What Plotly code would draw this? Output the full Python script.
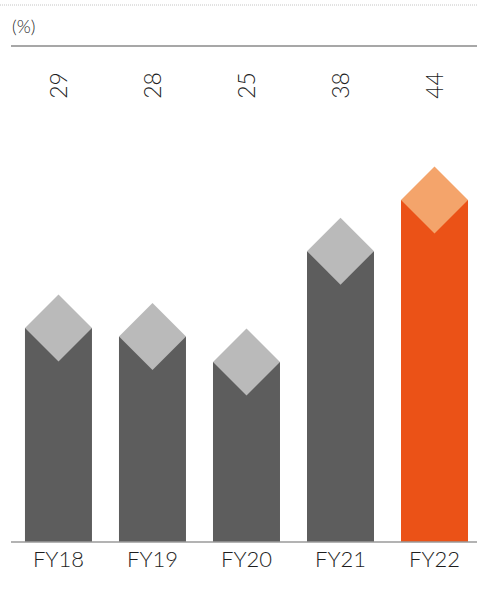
import plotly.graph_objects as go

categories = ["FY18", "FY19", "FY20", "FY21", "FY22"]
values = [29, 28, 25, 38, 44]
bar_colors = ["#5d5d5d", "#5d5d5d", "#5d5d5d", "#5d5d5d", "#eb5217"]
cap_colors = ["#bababa", "#bababa", "#bababa", "#bababa", "#f4a46b"]
unit_label = "(%)"

W, H = 477, 595
mt, mb = 0, 53
plot_h = H - mt - mb
ymax = 63.5
px_per_unit = plot_h / ymax
x0, x1 = -0.622, 4.452
px_per_x = W / (x1 - x0)
bar_w = 67 / px_per_x
half_w = bar_w / 2
half_h = (67 / 2) / px_per_unit

fig = go.Figure()
fig.add_trace(go.Bar(
    x=list(range(len(categories))),
    y=[v - half_h for v in values],
    width=bar_w,
    marker=dict(color=bar_colors, line=dict(width=0)),
    hoverinfo="skip",
))
for i, v in enumerate(values):
    fig.add_trace(go.Scatter(
        x=[i, i + half_w, i, i - half_w, i],
        y=[v, v - half_h, v - 2 * half_h, v - half_h, v],
        mode="lines", fill="toself", fillcolor=cap_colors[i],
        line=dict(width=0, color=cap_colors[i]), hoverinfo="skip",
    ))
    fig.add_annotation(x=i, y=53.5, text=str(v), showarrow=False, textangle=-90,
                       font=dict(family="Lato", size=23, color="#1e1e1e", weight=300))

fig.add_annotation(xref="paper", yref="paper", x=10 / W, y=(plot_h - 26) / plot_h,
                   xanchor="left", yanchor="middle", text=unit_label, showarrow=False,
                   font=dict(family="Lato", size=18, color="#1e1e1e", weight=300))

fig.add_shape(type="line", xref="paper", yref="paper", x0=0, x1=1,
              y0=(plot_h - 5) / plot_h, y1=(plot_h - 5) / plot_h,
              line=dict(color="#c4c4c4", width=1, dash="1px,1px"))
fig.add_shape(type="line", xref="paper", yref="paper", x0=11 / W, x1=1,
              y0=(plot_h - 46) / plot_h, y1=(plot_h - 46) / plot_h,
              line=dict(color="#8a8a8a", width=1.5))
fig.add_shape(type="line", xref="paper", yref="paper", x0=11 / W, x1=1,
              y0=0, y1=0, line=dict(color="#9a9a9a", width=1.5))

fig.update_layout(
    width=W, height=H, margin=dict(l=0, r=0, t=mt, b=mb),
    paper_bgcolor="white", plot_bgcolor="white", showlegend=False,
    xaxis=dict(range=[x0, x1], tickmode="array", tickvals=list(range(len(categories))),
               ticktext=categories, showgrid=False, zeroline=False, showline=False,
               ticks="", ticklabelstandoff=2,
               tickfont=dict(family="Lato", size=22, color="#1e1e1e", weight=300)),
    yaxis=dict(range=[0, ymax], visible=False, showgrid=False, zeroline=False),
)
fig.write_html("out.html")
